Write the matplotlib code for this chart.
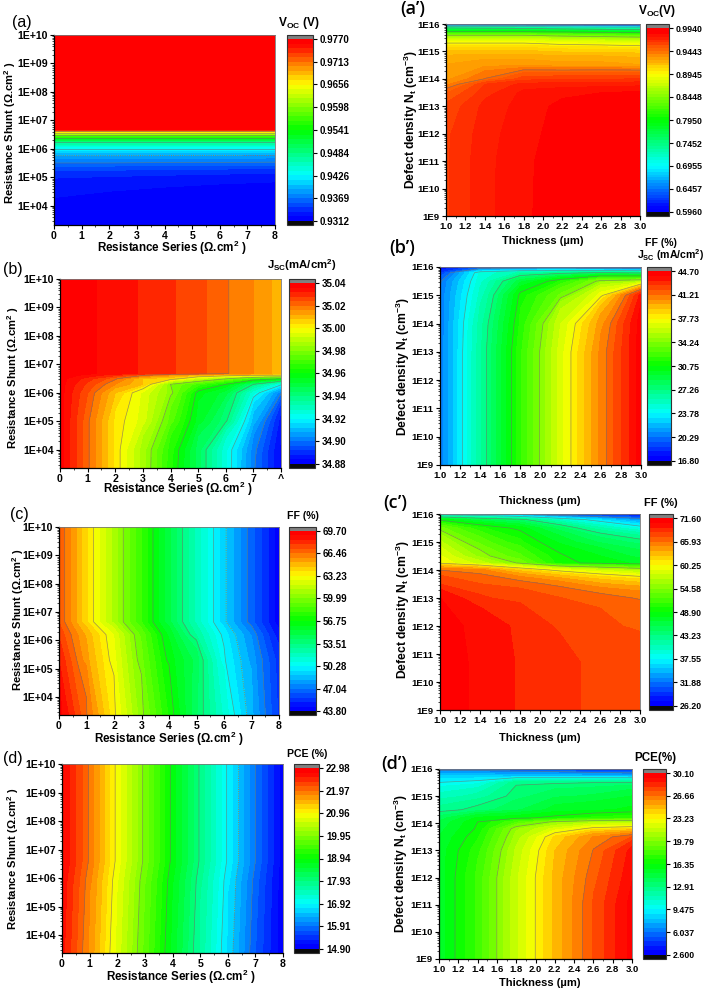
import numpy as np
import matplotlib
matplotlib.use("Agg")
import matplotlib.pyplot as plt
from matplotlib.colors import LinearSegmentedColormap

plt.rcParams["font.family"] = ["Liberation Sans", "DejaVu Sans"]
plt.rcParams["mathtext.fontset"] = "custom"
plt.rcParams["mathtext.rm"] = "Liberation Sans:bold"
plt.rcParams["mathtext.bf"] = "Liberation Sans:bold"
plt.rcParams["mathtext.default"] = "rm"

W, H = 706, 992

RS_FINE = [0, 1, 2, 3, 4, 5, 6, 7, 8]
RS_COARSE = [0, 2, 4, 6, 8]
THICK = [1.0, 1.4, 1.8, 2.2, 2.6, 3.0]

# panel (a) Voc vs Rs, Rsh
a_rows = [3.32, 4, 5, 5.5, 6.0, 6.37, 6.57, 6.66, 7, 10]
a_vals = [
    [.9316, .9315, .9315, .9314, .9314],
    [.9322, .9320, .9318, .9316, .9315],
    [.9336, .9334, .9332, .9330, .9328],
    [.9369, .9369, .9368, .9368, .9367],
    [.9426, .9426, .9426, .9426, .9426],
    [.9541, .9541, .9541, .9541, .9541],
    [.9656, .9656, .9656, .9656, .9656],
    [.9765, .9765, .9765, .9765, .9765],
    [.9766, .9766, .9766, .9766, .9766],
    [.9767, .9767, .9767, .9767, .9767],
]
a_ticks = ["0.9312", "0.9369", "0.9426", "0.9484", "0.9541", "0.9598", "0.9656", "0.9713", "0.9770"]

# panel (a') Voc vs thickness, Nt
ap_rows = [9, 11, 12, 13, 13.5, 13.8, 14, 14.5, 15, 15.3, 15.54, 15.72, 15.88, 15.96, 16]
ap_vals = [
    [.962, .9735, .9805, .985, .9885, .991],
    [.962, .9733, .9803, .9848, .9883, .991],
    [.9615, .9725, .9795, .984, .988, .990],
    [.958, .971, .978, .9835, .985, .988],
    [.950, .966, .977, .979, .9815, .9825],
    [.936, .963, .971, .972, .972, .973],
    [.930, .9445, .960, .961, .962, .963],
    [.926, .930, .930, .928, .928, .926],
    [.915, .915, .915, .912, .912, .910],
    [.895, .895, .895, .890, .888, .885],
    [.860, .860, .860, .850, .845, .840],
    [.795, .795, .795, .790, .785, .780],
    [.735, .730, .725, .715, .705, .700],
    [.640, .635, .630, .625, .615, .610],
    [.620, .615, .610, .605, .600, .598],
]
ap_ticks = ["0.5960", "0.6457", "0.6955", "0.7452", "0.7950", "0.8448", "0.8945", "0.9443", "0.9940"]

# panel (b) Jsc vs Rs, Rsh
b_rows = [3.36, 4, 5, 6, 6.3, 6.5, 6.62, 6.68, 10]
b_vals = [
    [35.038, 35.021, 35.003, 34.986, 34.965, 34.946, 34.925, 34.901, 34.883],
    [35.038, 35.021, 35.003, 34.986, 34.966, 34.946, 34.925, 34.902, 34.883],
    [35.038, 35.021, 35.003, 34.994, 34.974, 34.954, 34.941, 34.910, 34.886],
    [35.038, 35.024, 35.008, 34.995, 34.982, 34.958, 34.950, 34.925, 34.901],
    [35.038, 35.027, 35.016, 35.008, 34.980, 34.970, 34.960, 34.940, 34.922],
    [35.038, 35.030, 35.021, 35.008, 35.005, 34.992, 34.981, 34.968, 34.960],
    [35.038, 35.035, 35.029, 35.021, 35.014, 35.008, 35.005, 35.002, 35.000],
    [35.038, 35.0368, 35.0343, 35.0315, 35.0285, 35.0255, 35.0205, 35.016, 35.010],
    [35.038, 35.0368, 35.0343, 35.0315, 35.0285, 35.0255, 35.0205, 35.016, 35.010],
]
b_ticks = ["34.88", "34.90", "34.92", "34.94", "34.96", "34.98", "35.00", "35.02", "35.04"]

# panel (b') Jsc vs thickness, Nt
bp_rows = [9, 13, 14, 15, 15.5, 15.8, 15.95, 16]
bp_vals = [
    [20.4, 26.4, 32.0, 36.7, 40.7, 44.4],
    [20.4, 26.4, 32.0, 36.7, 40.7, 44.4],
    [20.4, 26.2, 31.6, 36.3, 40.2, 44.4],
    [20.4, 25.4, 31.0, 33.7, 37.4, 43.6],
    [20.15, 24.9, 29.1, 31.5, 34.6, 35.2],
    [18.75, 24.6, 26.0, 26.7, 27.4, 26.8],
    [17.6, 20.1, 20.7, 21.0, 20.1, 19.6],
    [17.2, 17.6, 17.6, 17.6, 17.4, 17.2],
]
bp_ticks = ["16.80", "20.29", "23.78", "27.26", "30.75", "34.24", "37.73", "41.21", "44.70"]

# panel (c) FF vs Rs, Rsh
c_rows = [3.36, 5.3, 6.2, 6.65, 10]
c_vals = [
    [69.4, 66.5, 63.4, 60.2, 57.3, 54.2, 51.4, 48.5, 45.6],
    [68.4, 65.4, 62.8, 59.5, 56.5, 54.5, 50.4, 48.1, 45.4],
    [67.6, 65.0, 62.5, 59.1, 55.9, 52.8, 50.0, 47.6, 44.6],
    [67.1, 64.0, 61.0, 58.0, 55.0, 52.0, 49.2, 46.65, 44.06],
    [67.1, 64.0, 61.0, 58.0, 55.0, 52.0, 49.2, 46.65, 44.06],
]
c_ticks = ["43.80", "47.04", "50.28", "53.51", "56.75", "59.99", "63.23", "66.46", "69.70"]

# panel (c') FF vs thickness, Nt
cp_rows = [9, 10.7, 12, 13, 13.5, 14, 14.25, 14.5, 15, 15.5, 15.8, 15.95, 16]
cp_vals = [
    [71.1, 70.2, 69.2, 68.4, 68.0, 67.5],
    [71.1, 70.2, 69.2, 68.4, 68.0, 67.5],
    [71.1, 70.0, 69.1, 68.0, 67.4, 66.8],
    [70.5, 68.4, 67.7, 67.1, 66.5, 65.8],
    [68.2, 67.1, 66.6, 65.5, 63.9, 63.0],
    [65.9, 65.2, 62.1, 59.6, 57.8, 56.2],
    [60.0, 57.5, 54.3, 49.4, 48.4, 47.5],
    [59.3, 55.3, 52.5, 49.1, 47.8, 46.2],
    [57.1, 53.0, 50.3, 47.5, 45.3, 43.9],
    [53.9, 50.3, 48.4, 44.8, 41.2, 38.5],
    [48.4, 45.7, 43.9, 39.8, 36.2, 33.0],
    [39.8, 37.5, 35.3, 31.6, 29.8, 28.5],
    [34.4, 32.1, 30.3, 28.5, 27.6, 27.1],
]
cp_ticks = ["26.20", "31.88", "37.55", "43.23", "48.90", "54.58", "60.25", "65.93", "71.60"]

# panel (d) PCE vs Rs, Rsh
d_rows = [3.37, 5.9, 6.6, 10]
d_vals = [
    [22.66, 21.73, 20.68, 19.67, 18.66, 17.69, 16.68, 15.71, 14.94],
    [22.74, 21.83, 20.78, 19.77, 18.76, 17.79, 16.78, 15.81, 14.95],
    [22.82, 21.93, 20.88, 19.87, 18.86, 17.89, 16.88, 15.91, 14.98],
    [22.82, 21.93, 20.88, 19.87, 18.86, 17.89, 16.88, 15.91, 14.98],
]
d_ticks = ["14.90", "15.91", "16.92", "17.93", "18.94", "19.95", "20.96", "21.97", "22.98"]

# panel (d') PCE vs thickness, Nt
dp_rows = [9, 11, 12, 13, 13.5, 13.8, 14.05, 14.2, 14.5, 15, 15.5, 15.75, 15.9, 16]
dp_vals = [
    [15.25, 17.9, 21.7, 24.8, 27.4, 29.7],
    [15.25, 17.9, 21.7, 24.8, 27.4, 29.7],
    [15.25, 17.9, 21.7, 24.8, 27.1, 29.3],
    [15.25, 17.45, 21.3, 24.6, 26.7, 29.0],
    [15.0, 16.9, 20.75, 24.05, 26.0, 27.35],
    [14.7, 16.5, 20.3, 22.1, 23.6, 24.05],
    [14.4, 16.35, 18.3, 20.05, 20.75, 20.75],
    [13.9, 15.8, 16.1, 16.6, 17.2, 17.45],
    [12.5, 13.2, 14.15, 15.25, 15.5, 15.8],
    [11.1, 11.8, 13.3, 14.15, 14.4, 15.0],
    [9.5, 9.9, 12.75, 12.75, 12.9, 13.05],
    [8.1, 8.1, 7.8, 7.8, 7.7, 7.55],
    [6.7, 6.7, 6.45, 6.2, 5.6, 5.35],
    [5.35, 5.1, 4.5, 4.0, 3.7, 3.4],
]
dp_ticks = ["2.600", "6.037", "9.475", "12.91", "16.35", "19.79", "23.23", "26.66", "30.10"]

RSH_EXP = [4, 5, 6, 7, 8, 9, 10]
NT_EXP = [9, 10, 11, 12, 13, 14, 15, 16]

RSH_LABEL = r"Resistance Shunt ($\Omega$.cm$^{2}$ )"
RS_LABEL = r"Resistance Series ($\Omega$.cm$^{2}$ )"
NT_LABEL = r"Defect density N$_{t}$ (cm$^{-3}$)"
T_LABEL = "Thickness (\u00b5m)"

# red and blue are held flat for the last bit of each end, as in the colour bars
cmap = LinearSegmentedColormap.from_list(
    "origin_rainbow",
    [(0, "#0000ff"), (0.02, "#0000ff"), (0.25, "#00ffff"), (0.5, "#00ff00"),
     (0.75, "#ffff00"), (0.975, "#ff0000"), (1, "#ff0000")], N=256)
cmap.set_under("#0a0a0a")
cmap.set_over("#808080")


def box(fig, x0, y0, x1, y1):
    return fig.add_axes([x0 / W, 1 - y1 / H, (x1 - x0) / W, (y1 - y0) / H])


def put(fig, x, y, s, **kw):
    kw.setdefault("ha", "center")
    kw.setdefault("va", "center")
    kw.setdefault("fontweight", "bold")
    fig.text(x / W, 1 - y / H, s, **kw)


def draw_panel(fig, xs, rows, vals, ticks, plot_box, bar_box, left, extra=(), bands=40):
    ax = box(fig, *plot_box)
    tick_vals = [float(t) for t in ticks]
    levels = np.linspace(tick_vals[0], tick_vals[-1], bands + 1)
    Y = 10.0 ** np.array(rows)
    Z = np.array(vals)
    cf = ax.contourf(xs, Y, Z, levels=levels, cmap=cmap, extend="both")
    ax.contour(xs, Y, Z, levels=tick_vals[1:-1], colors="#6e6e6e", linewidths=0.5, alpha=0.7)
    if len(extra):
        ax.contour(xs, Y, Z, levels=list(extra), colors="#a87a3a", linewidths=0.6, linestyles=":")
    ax.set_yscale("log")
    if left:
        ax.set_xlim(0, 8)
        ax.set_xticks(range(0, 9))
        ax.set_xticks(np.arange(0.5, 8, 1), minor=True)
        exps = RSH_EXP
        ax.set_yticks([10.0 ** e for e in exps], [f"1E+{e:02d}" for e in exps])
    else:
        ax.set_xlim(1, 3)
        ax.set_xticks(np.arange(1, 3.01, 0.2), [f"{v:.1f}" for v in np.arange(1, 3.01, 0.2)])
        ax.set_xticks(np.arange(1.1, 3, 0.2), minor=True)
        exps = NT_EXP
        ax.set_yticks([10.0 ** e for e in exps], [f"1E{e}" for e in exps])
    ax.set_ylim(Y[0], Y[-1])
    ax.yaxis.set_minor_formatter(plt.NullFormatter())
    ax.tick_params(which="major", length=3, width=0.8, labelsize=7.6 if left else 6.8, pad=1.5)
    ax.tick_params(which="minor", length=1.5, width=0.5)
    for lab in ax.get_xticklabels() + ax.get_yticklabels():
        lab.set_fontweight("bold")
    for side in ("top", "right"):
        ax.spines[side].set_color("#777777")
        ax.spines[side].set_linewidth(0.6)
    for side in ("left", "bottom"):
        ax.spines[side].set_linewidth(0.9)

    cax = box(fig, *bar_box)
    cb = fig.colorbar(cf, cax=cax, extendfrac=0.022, extendrect=True, drawedges=False)
    cb.set_ticks(tick_vals, labels=ticks)
    cb.ax.minorticks_off()
    cb.ax.tick_params(length=3, width=0.8, labelsize=7.0 if left else 6.3, pad=2)
    for lab in cb.ax.get_yticklabels():
        lab.set_fontweight("bold")
    cb.outline.set_linewidth(0.8)
    cb.outline.set_edgecolor("#333333")
    return ax


def main():
    fig = plt.figure(figsize=(W / 100, H / 100), dpi=100, facecolor="white")

    draw_panel(fig, RS_COARSE, a_rows, a_vals, a_ticks, (54, 35, 275, 225), (287, 35, 313, 225), True, extra=[.9390])
    draw_panel(fig, THICK, ap_rows, ap_vals, ap_ticks, (446, 24, 640, 216), (646, 24, 669, 216), False, bands=64)
    ax_b = draw_panel(fig, RS_FINE, b_rows, b_vals, b_ticks, (60, 279, 281, 468), (289, 279, 315, 468), True)
    draw_panel(fig, THICK, bp_rows, bp_vals, bp_ticks, (440, 267, 641, 465), (647, 267, 671, 465), False)
    draw_panel(fig, RS_FINE, c_rows, c_vals, c_ticks, (59, 527, 279, 715), (289, 527, 316, 715), True, extra=[49.0])
    draw_panel(fig, THICK, cp_rows, cp_vals, cp_ticks, (440, 514, 640, 710), (649, 514, 673, 710), False)
    draw_panel(fig, RS_FINE, d_rows, d_vals, d_ticks, (62, 764, 283, 953), (294, 764, 319, 953), True, extra=[16.5])
    draw_panel(fig, THICK, dp_rows, dp_vals, dp_ticks, (439, 769, 632, 959), (643, 769, 666, 959), False)

    # the 8 on the (b) axis is cut off in the original
    labels_b = [str(v) for v in range(0, 8)] + ["^"]
    ax_b.set_xticklabels(labels_b, fontweight="bold")

    # panel letters
    for x, y, s in [(22, 22, "(a)"), (13, 269, "(b)"), (19, 514, "(c)"), (13, 759, "(d)")]:
        put(fig, x, y, s, fontsize=11.5, fontweight="normal")
    for x, y, s in [(413, 9, "(a\u2019)"), (402, 248, "(b\u2019)"), (395, 503, "(c\u2019)"), (394, 764, "(d\u2019)")]:
        put(fig, x, y, s, fontsize=13, family="Open Sans", fontweight="semibold")

    # colour bar titles
    put(fig, 299, 23, r"V$_{OC}$ (V)", fontsize=8.6)
    put(fig, 657, 11, r"V$_{OC}$(V)", fontsize=8.6)
    put(fig, 302, 265, r"J$_{SC}$(mA/cm$^{2}$)", fontsize=8.2)
    put(fig, 661, 243, "FF (%)", fontsize=7.6)
    put(fig, 671, 255, r"J$_{SC}$ (mA/cm$^{2}$)", fontsize=7.6)
    put(fig, 303, 516, "FF (%)", fontsize=7.6)
    put(fig, 661, 503, "FF (%)", fontsize=8)
    put(fig, 307, 754, "PCE (%)", fontsize=7.6)
    put(fig, 655, 758, "PCE(%)", fontsize=8.4)

    # axis titles
    for x, y in [(172, 248), (178, 489), (169, 739), (181, 977)]:
        put(fig, x, y, RS_LABEL, fontsize=8.4)
    for x, y in [(543, 241), (540, 501), (540, 738), (540, 983)]:
        put(fig, x, y, T_LABEL, fontsize=8)
    for x, y in [(10, 133), (13, 378), (18, 620), (13, 859)]:
        put(fig, x, y, RSH_LABEL, fontsize=8.1, rotation=90)
    for x, y in [(411, 120), (403, 367), (403, 610), (401, 864)]:
        put(fig, x, y, NT_LABEL, fontsize=8.7, rotation=90)

    fig.savefig("out.png", dpi=100)


if __name__ == "__main__":
    main()
